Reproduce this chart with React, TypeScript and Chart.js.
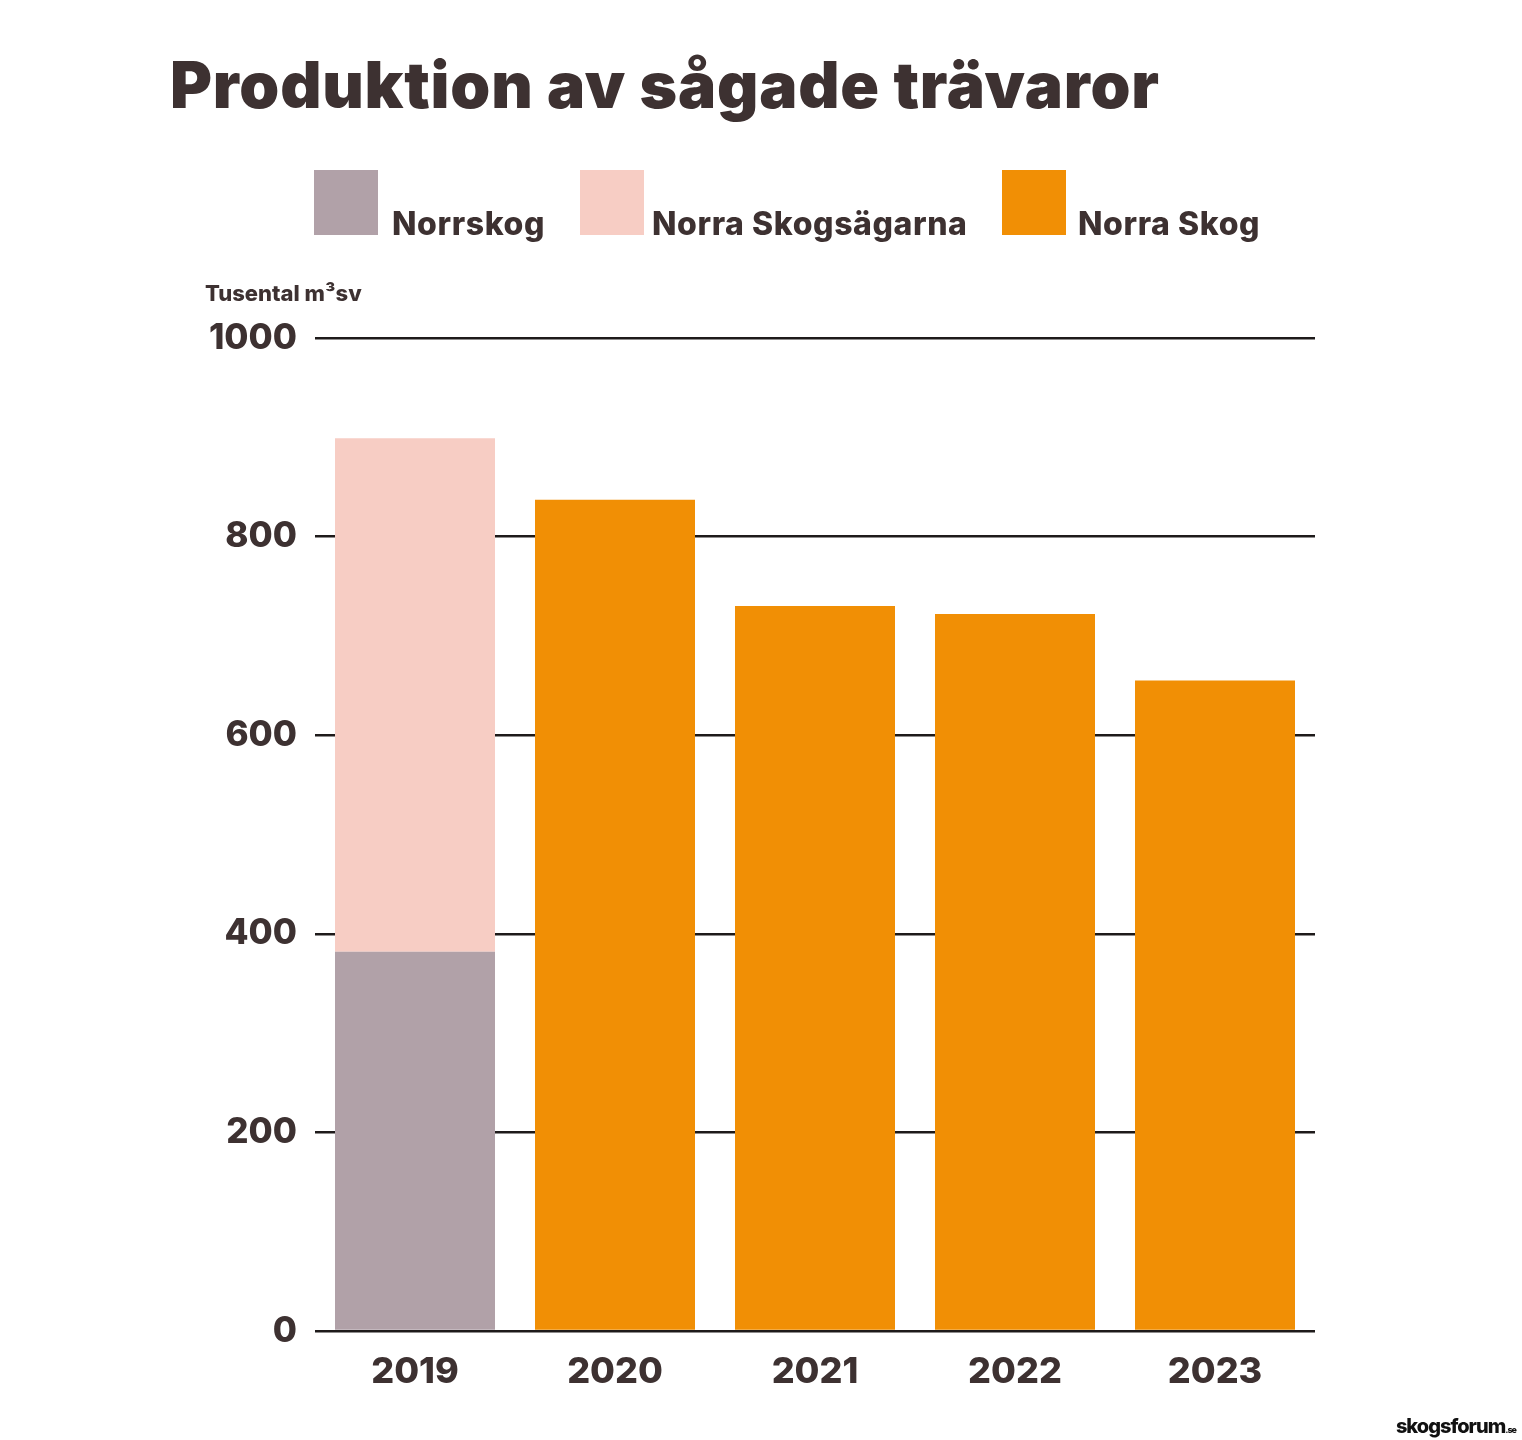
import React, { useEffect, useRef } from "react";
import { Chart, registerables } from "chart.js";
Chart.register(...registerables);

const years = ["2019", "2020", "2021", "2022", "2023"];
const norrskog = [382, 0, 0, 0, 0];
const norraSkogsagarna = [517, 0, 0, 0, 0];
const norraSkog = [0, 837, 730, 722, 655];
const yTicks = [0, 200, 400, 600, 800, 1000];

const TXT = "#3d3131";
const FONT = "Inter, 'Noto Sans', sans-serif";

export default function App() {
  const ref = useRef<HTMLCanvasElement>(null);
  useEffect(() => {
    const chart = new Chart(ref.current!, {
      type: "bar",
      data: {
        labels: years,
        datasets: [
          { label: "Norrskog", data: norrskog, backgroundColor: "#b1a1a8", barPercentage: 0.8, categoryPercentage: 1 },
          { label: "Norra Skogsägarna", data: norraSkogsagarna, backgroundColor: "#f7cdc4", barPercentage: 0.8, categoryPercentage: 1 },
          { label: "Norra Skog", data: norraSkog, backgroundColor: "#f18f05", barPercentage: 0.8, categoryPercentage: 1 },
        ],
      },
      options: {
        animation: false,
        responsive: false,
        layout: { padding: { left: 0, top: 338, right: 207, bottom: 39 } },
        plugins: { legend: { display: false }, tooltip: { enabled: false } },
        scales: {
          x: {
            stacked: true,
            grid: { display: false },
            border: { display: false },
            ticks: { color: TXT, font: { family: FONT, size: 36, weight: 800 as any }, padding: 12 },
            afterFit: (s: any) => { s.height = 70; },
          },
          y: {
            stacked: true,
            min: 0,
            max: 1000,
            afterBuildTicks: (s: any) => { s.ticks = yTicks.map((v) => ({ value: v })); },
            grid: { color: "#1e1a1a", lineWidth: 2.5, drawTicks: false },
            border: { display: false },
            ticks: {
              color: TXT,
              font: { family: FONT, size: 35, weight: 800 as any },
              padding: 18,
              callback: (v: any) => String(v),
            },
            afterFit: (s: any) => { s.width = 315; },
          },
        },
      },
    });
    return () => chart.destroy();
  }, []);

  const legend = [
    { label: "Norrskog", color: "#b1a1a8", x: 314, tx: 392 },
    { label: "Norra Skogsägarna", color: "#f7cdc4", x: 580, tx: 652 },
    { label: "Norra Skog", color: "#f18f05", x: 1002, tx: 1078 },
  ];

  return (
    <div style={{ position: "absolute", left: 0, top: 0, width: 1522, height: 1440, background: "#fff", fontFamily: FONT, color: TXT }}>
      <canvas ref={ref} width={1522} height={1440} style={{ position: "absolute", left: 0, top: 0 }} />
      <div style={{ position: "absolute", left: 170, top: 46, fontSize: 64, fontWeight: 900, letterSpacing: 0.8, whiteSpace: "nowrap" }}>
        Produktion av sågade trävaror
      </div>
      {legend.map((l) => (
        <React.Fragment key={l.label}>
          <div style={{ position: "absolute", left: l.x, top: 170, width: 64, height: 65, background: l.color }} />
          <div style={{ position: "absolute", left: l.tx, top: 204, fontSize: 32, fontWeight: 800, letterSpacing: 0.6, whiteSpace: "nowrap" }}>{l.label}</div>
        </React.Fragment>
      ))}
      <div style={{ position: "absolute", left: 205, top: 280, fontSize: 22, fontWeight: 800, whiteSpace: "nowrap" }}>
        Tusental m³sv
      </div>
      <div style={{ position: "absolute", right: 6, top: 1414, fontSize: 20, fontWeight: 800, letterSpacing: -1, color: "#111" }}>
        skogsforum<span style={{ fontSize: 9 }}>.se</span>
      </div>
    </div>
  );
}
